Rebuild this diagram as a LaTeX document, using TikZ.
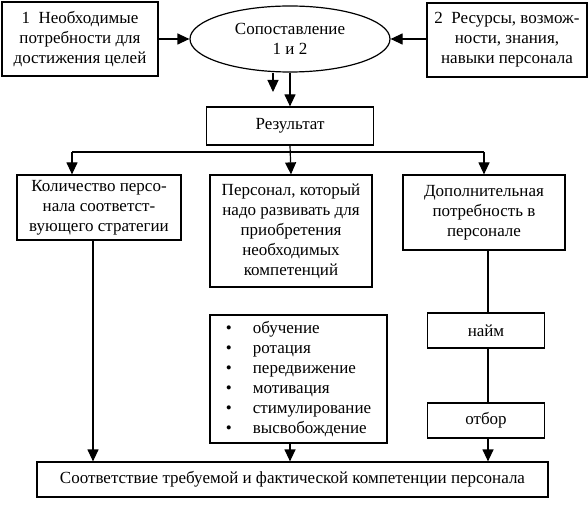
\documentclass[tikz,border=0pt]{standalone}
\usepackage{fontspec}
\setmainfont{Liberation Serif}
\usepackage{tikz}
\usetikzlibrary{arrows.meta, positioning, calc, shapes.geometric}

\begin{document}
\begin{tikzpicture}[
    x=1pt, y=-1pt,
    every node/.style={font=\fontsize{17}{20}\selectfont},
    box/.style={draw, line width=1.2pt, rectangle, align=center, inner sep=2pt},
    arr/.style={-{Triangle[length=12pt, width=11pt]}},
    line width=1.2pt
    ]
    \useasboundingbox (0,0) rectangle (588,518);

    % top row
    \node[box, minimum width=156pt, minimum height=74pt] (need) at (80,39)
        {1\enspace Необходимые\\потребности для\\достижения целей};
    \node[draw, line width=1.2pt, ellipse, minimum width=200pt, minimum height=66pt,
        align=center, inner sep=0pt] (comp) at (290,39) {Сопоставление\\1 и 2};
    \node[box, minimum width=160pt, minimum height=74pt] (res) at (507,40)
        {2\enspace Ресурсы, возмож-\\ности, знания,\\навыки персонала};
    \node[box, minimum width=167pt, minimum height=38pt] (out) at (290,126) {Результат};

    % middle row
    \node[box, minimum width=164pt, minimum height=65pt] (qty) at (99,207.5)
        {Количество персо-\\нала соответст-\\вующего стратегии};
    \node[box, minimum width=162pt, minimum height=112pt] (dev) at (291,231)
        {Персонал, который\\надо развивать для\\приобретения\\необходимых\\компетенций};
    \node[box, minimum width=162pt, minimum height=75pt] (add) at (484,212.5)
        {Дополнительная\\потребность в\\персонале};

    % lower part
    \node[box, minimum width=177pt, minimum height=128pt, align=left, inner sep=0pt] (list) at (298.5,379)
        {\begin{tabular}{@{}p{27pt}@{}l@{}}
        • & обучение\\
        • & ротация\\
        • & передвижение\\
        • & мотивация\\
        • & стимулирование\\
        • & высвобождение
        \end{tabular}};
    \node[box, minimum width=117pt, minimum height=35pt] (hire) at (486,330.5) {найм};
    \node[box, minimum width=117pt, minimum height=35pt] (sel) at (486,420.5) {отбор};
    \node[box, minimum width=511pt, minimum height=35pt] (fit) at (292.5,479.5)
        {Соответствие требуемой и фактической компетенции персонала};

    % connectors
    \coordinate (c1) at (273,92);
    \coordinate (jl) at (72,152);
    \coordinate (jr) at (484,152);
    \coordinate (ld) at (93,0);
    \coordinate (md) at (290,0);
    \coordinate (rd) at (488,0);

    \draw[arr] (need.east |- comp.west) -- (comp.west);
    \draw[arr] (res.west |- comp.east) -- (comp.east);
    \draw[arr] (comp.south -| c1) -- (c1);
    \draw[arr] (comp.south) -- (out.north);
    \draw[arr] (out.south) -- (dev.north);
    \draw (jl) -- (jr);
    \draw[arr] (jl) -- (jl |- qty.north);
    \draw[arr] (jr) -- (add.north);
    \draw[arr] (qty.south -| ld) -- (ld |- fit.north);
    \draw[arr] (list.south -| md) -- (md |- fit.north);
    \draw (add.south -| rd) -- (rd |- hire.north);
    \draw (hire.south -| rd) -- (rd |- sel.north);
    \draw[arr] (sel.south -| rd) -- (rd |- fit.north);
\end{tikzpicture}
\end{document}
